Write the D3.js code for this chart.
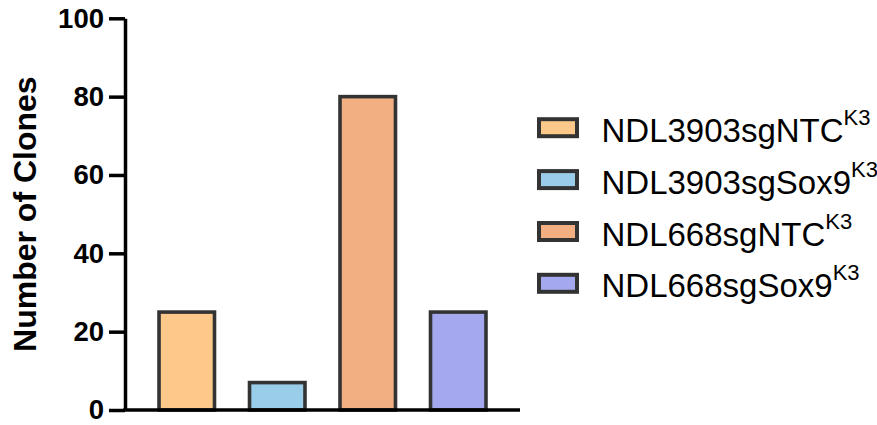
<!DOCTYPE html>
<html>
<head>
<meta charset="utf-8">
<script src="https://cdn.jsdelivr.net/npm/d3@7"></script>
<style>
  body { margin: 0; background: #fff; }
  svg { display: block; font-family: "Liberation Sans", Arial, sans-serif; }
</style>
</head>
<body>
<svg id="chart" width="877" height="425"></svg>
<script>
const categories = ["NDL3903sgNTC", "NDL3903sgSox9", "NDL668sgNTC", "NDL668sgSox9"];
const superscripts = ["K3", "K3", "K3", "K3"];
const values = [25, 7, 80, 25];
const colors = ["#FDC98A", "#99CDEA", "#F2AF82", "#A4A8EF"];
const yTicks = [0, 20, 40, 60, 80, 100];
const yTitle = "Number of Clones";

const svg = d3.select("#chart");
const x = d3.scaleBand().domain(categories).range([125, 520]).paddingInner(0.387).paddingOuter(0.376);
const y = d3.scaleLinear().domain([0, 100]).range([410, 18.3]);

// bars
svg.append("g").selectAll("rect").data(categories).join("rect")
  .attr("x", d => x(d))
  .attr("width", x.bandwidth())
  .attr("y", (d, i) => y(values[i]))
  .attr("height", (d, i) => y(0) - y(values[i]))
  .attr("fill", (d, i) => colors[i])
  .attr("stroke", "#333")
  .attr("stroke-width", 3.6);

// y axis
const yAxis = svg.append("g").attr("transform", "translate(125,0)")
  .call(d3.axisLeft(y).tickValues(yTicks).tickSize(16).tickPadding(5).tickSizeOuter(0));
yAxis.select(".domain").attr("stroke", "#000").attr("stroke-width", 3.5);
yAxis.selectAll(".tick line").attr("stroke", "#000").attr("stroke-width", 3.5);
yAxis.selectAll(".tick text").attr("font-size", 27.5).attr("font-weight", "bold")
  .attr("fill", "#000").attr("font-family", "'Liberation Sans', Arial, sans-serif");

// x axis line
const xAxis = svg.append("g").attr("transform", "translate(0,410)")
  .call(d3.axisBottom(x).tickSize(0).tickFormat(""));
xAxis.select(".domain").attr("stroke", "#000").attr("stroke-width", 3.5)
  .attr("d", `M${123.25},0H520`);

// y title
svg.append("text")
  .attr("transform", `translate(36,${(y(0) + y(100)) / 2}) rotate(-90)`)
  .attr("text-anchor", "middle")
  .attr("font-size", 32).attr("font-weight", "bold").attr("fill", "#000")
  .text(yTitle);

// legend
const legend = svg.append("g");
const rowBase = [141.7, 193.6, 245.5, 297.3];
categories.forEach((c, i) => {
  const g = legend.append("g");
  g.append("rect").attr("x", 539).attr("y", rowBase[i] - 22.5)
    .attr("width", 38).attr("height", 17)
    .attr("fill", colors[i]).attr("stroke", "#333").attr("stroke-width", 4);
  const t = g.append("text").attr("x", 601.5).attr("y", rowBase[i])
    .attr("font-size", 33).attr("fill", "#000");
  t.append("tspan").text(c);
  t.append("tspan").attr("dy", -17).attr("font-size", 22).text(superscripts[i]);
});
</script>
</body>
</html>
